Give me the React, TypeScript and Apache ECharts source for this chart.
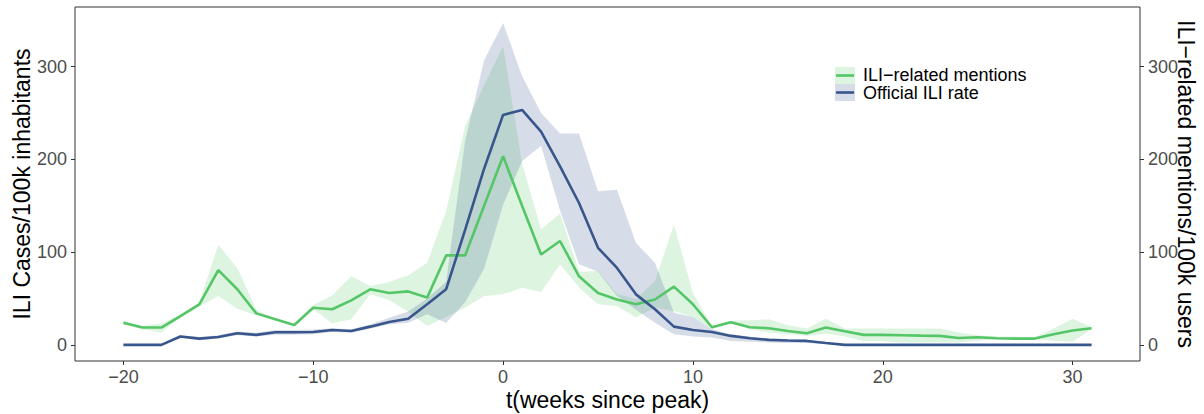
import React, { useEffect, useRef } from "react";
import * as echarts from "echarts";

// Weeks relative to the epidemic peak
const weeks: number[] = [];
for (let w = -20; w <= 31; w++) weeks.push(w);

// ILI-related mentions per 100k users (median and band)
const mentions = [
  24, 18.7, 18.7, 31, 43.8, 80.6, 60, 34, 27.6, 21.5,
  40, 38.4, 48, 60, 56, 57.7, 51, 96.5, 96.5, 150,
  203.5, 150, 97.5, 112, 74, 56, 49, 43.8, 49, 62.8,
  43.8, 19, 24.5, 19, 18, 15, 12.6, 18.7, 14.7, 10.8,
  10.8, 10.4, 10, 9.7, 7.5, 8.2, 7.2, 6.8, 6.8, 11.5,
  15.5, 18,
];
const mentionsHi = [
  26, 20.5, 23, 32.5, 46, 108, 83, 38, 28.5, 22.5,
  43, 53.4, 74, 63.4, 67.7, 75, 88.6, 144, 236, 280,
  322, 196, 124.4, 141.6, 79, 79.6, 55, 49.5, 68.8, 129.8,
  56, 20, 26, 26.5, 27.6, 21.2, 17.6, 28.3, 17.6, 17.6,
  17.6, 17.6, 17.6, 17.6, 13.3, 10.4, 9, 9, 8.1, 17.6,
  28.3, 19,
];
const mentionsLo = [
  22, 16.9, 13.3, 29.5, 41.3, 52.7, 39, 32, 26.5, 20.5,
  38.4, 23.3, 27.6, 54.5, 48.4, 36, 20.4, 30, 40, 52.7,
  54.5, 61.7, 57, 86.8, 62, 43.8, 42, 29.5, 40.2, 36.6,
  30, 17.5, 23.5, 16.9, 13.3, 11.5, 9.7, 12.2, 9, 4,
  4, 2.6, 2.6, 2.6, 2.6, 4.4, 6, 6, 6, 4.4,
  3.5, 17,
];

// Official ILI cases per 100k inhabitants (median and band)
const official = [
  0, 0, 0, 9, 6.8, 8.6, 12.6, 10.8, 13.6, 13.6,
  14, 16, 15, 19.7, 24.7, 28.3, 43.8, 60, 124, 190,
  248, 253.4, 230, 192.5, 153, 104.7, 83, 54.5, 38.4, 19.7,
  16, 14, 9.7, 7.2, 5.4, 4.7, 4.3, 2, 0, 0,
  0, 0, 0, 0, 0, 0, 0, 0, 0, 0,
  0, 0,
];
const officialHi = [
  1, 1, 1, 10.5, 8.5, 10.5, 14.5, 13, 16, 16,
  16.5, 18, 17, 22, 29.4, 36, 50, 68, 220, 307,
  347, 290, 250, 228, 228, 165.6, 167.4, 110, 88.6, 34.8,
  30, 17, 11.5, 9, 7, 6, 5.5, 3, 1, 1,
  1, 1, 1, 1, 1, 1, 1, 1, 1, 1,
  1, 1,
];
const officialLo = [
  0, 0, 0, 7.5, 5, 7, 10.5, 9, 11, 11,
  11.5, 14, 13, 17.5, 22, 24, 33, 23.5, 46, 82,
  151, 198, 214.7, 145, 87, 79, 52.7, 38, 24, 11.5,
  9, 8, 4.3, 3.5, 2.5, 2, 2, 1, 0, 0,
  0, 0, 0, 0, 0, 0, 0, 0, 0, 0,
  0, 0,
];

const xTicks = [-20, -10, 0, 10, 20, 30];
const yTicks = [0, 100, 200, 300];

const GREEN = "#55C667";
const BLUE = "#39568C";
const GREEN_FILL = "rgba(85,198,103,0.2)";
const BLUE_FILL = "rgba(57,86,140,0.2)";
const FONT = "'Liberation Sans', Arial, sans-serif";

const pairs = (ys: number[]) => weeks.map((w, i) => [w, ys[i]]);

const minusFmt = (v: number) => (v < 0 ? "\u2212" + Math.abs(v) : String(v));

// A ribbon between lo and hi, drawn as one polygon through the axis scales
const ribbonSeries = (name: string, lo: number[], hi: number[], fill: string) => ({
  name,
  type: "custom",
  silent: true,
  z: 1,
  data: [[weeks[0], lo[0]]],
  encode: { x: 0, y: 1 },
  renderItem: (_params: any, api: any) => {
    const upper = weeks.map((w, i) => api.coord([w, hi[i]]));
    const lower = weeks.map((w, i) => api.coord([w, lo[i]])).reverse();
    return {
      type: "polygon",
      shape: { points: upper.concat(lower) },
      style: { fill, stroke: "none" },
    };
  },
});

export default function App() {
  const ref = useRef<HTMLDivElement>(null);

  useEffect(() => {
    if (!ref.current) return;
    const chart = echarts.init(ref.current, undefined, { renderer: "svg" });

    const tickStyle = { show: true, inside: false, length: 4, lineStyle: { color: "#333333", width: 1 } };
    const labelStyle = { color: "#4D4D4D", fontSize: 18, fontFamily: FONT };
    const noLine = { show: false, onZero: false };

    const yAxisBase = {
      type: "value" as const,
      min: -17.35,
      max: 364.35,
      splitLine: { show: false },
      axisLine: noLine,
      axisTick: { ...tickStyle, customValues: yTicks },
      nameLocation: "middle" as const,
      nameMoveOverlap: false,
      nameTextStyle: { color: "#000", fontSize: 23, fontFamily: FONT },
    };

    chart.setOption({
      animation: false,
      backgroundColor: "#ffffff",
      grid: {
        left: 75,
        right: 64,
        top: 7,
        bottom: 53,
        outerBoundsMode: "none",
        containLabel: false,
        show: true,
        borderColor: "#333333",
        borderWidth: 1,
        backgroundColor: "transparent",
      },
      xAxis: {
        type: "value",
        min: -22.55,
        max: 33.55,
        splitLine: { show: false },
        axisLine: noLine,
        axisTick: { ...tickStyle, customValues: xTicks },
        axisLabel: { ...labelStyle, margin: 7, customValues: xTicks, formatter: minusFmt },
        name: "t(weeks since peak)",
        nameLocation: "middle",
        nameMoveOverlap: false,
        nameGap: 27,
        nameTextStyle: { color: "#000", fontSize: 23, fontFamily: FONT },
      },
      yAxis: [
        {
          ...yAxisBase,
          position: "left",
          axisLabel: { ...labelStyle, margin: 8, customValues: yTicks },
          name: "ILI Cases/100k inhabitants",
          nameRotate: 90,
          nameGap: 42,
        },
        {
          ...yAxisBase,
          position: "right",
          axisLabel: { ...labelStyle, margin: 8, customValues: yTicks },
          name: "ILI\u2212related mentions/100k users",
          nameRotate: -90,
          nameGap: 34,
        },
      ],
      series: [
        ribbonSeries("mentionsBand", mentionsLo, mentionsHi, GREEN_FILL),
        ribbonSeries("officialBand", officialLo, officialHi, BLUE_FILL),
        {
          name: "ILI\u2212related mentions",
          type: "line",
          data: pairs(mentions),
          symbol: "none",
          lineStyle: { color: GREEN, width: 2.6 },
          z: 3,
        },
        {
          name: "Official ILI rate",
          type: "line",
          data: pairs(official),
          symbol: "none",
          lineStyle: { color: BLUE, width: 2.6 },
          z: 4,
        },
      ],
      graphic: [
        { type: "rect", shape: { x: 835, y: 67, width: 20, height: 17 }, style: { fill: GREEN_FILL } },
        { type: "line", shape: { x1: 836, y1: 75.5, x2: 854, y2: 75.5 }, style: { stroke: GREEN, lineWidth: 2.6 } },
        { type: "rect", shape: { x: 835, y: 84, width: 20, height: 17 }, style: { fill: BLUE_FILL } },
        { type: "line", shape: { x1: 836, y1: 92.5, x2: 854, y2: 92.5 }, style: { stroke: BLUE, lineWidth: 2.6 } },
        {
          type: "text",
          x: 863,
          y: 74.5,
          style: { text: "ILI\u2212related mentions", fill: "#000", fontSize: 18, fontFamily: FONT, verticalAlign: "middle" },
        },
        {
          type: "text",
          x: 863,
          y: 92.5,
          style: { text: "Official ILI rate", fill: "#000", fontSize: 18, fontFamily: FONT, verticalAlign: "middle" },
        },
      ],
    });

    return () => chart.dispose();
  }, []);

  return (
    <div
      ref={ref}
      style={{ position: "fixed", left: 0, top: 0, width: 1204, height: 414, background: "#fff" }}
    />
  );
}
